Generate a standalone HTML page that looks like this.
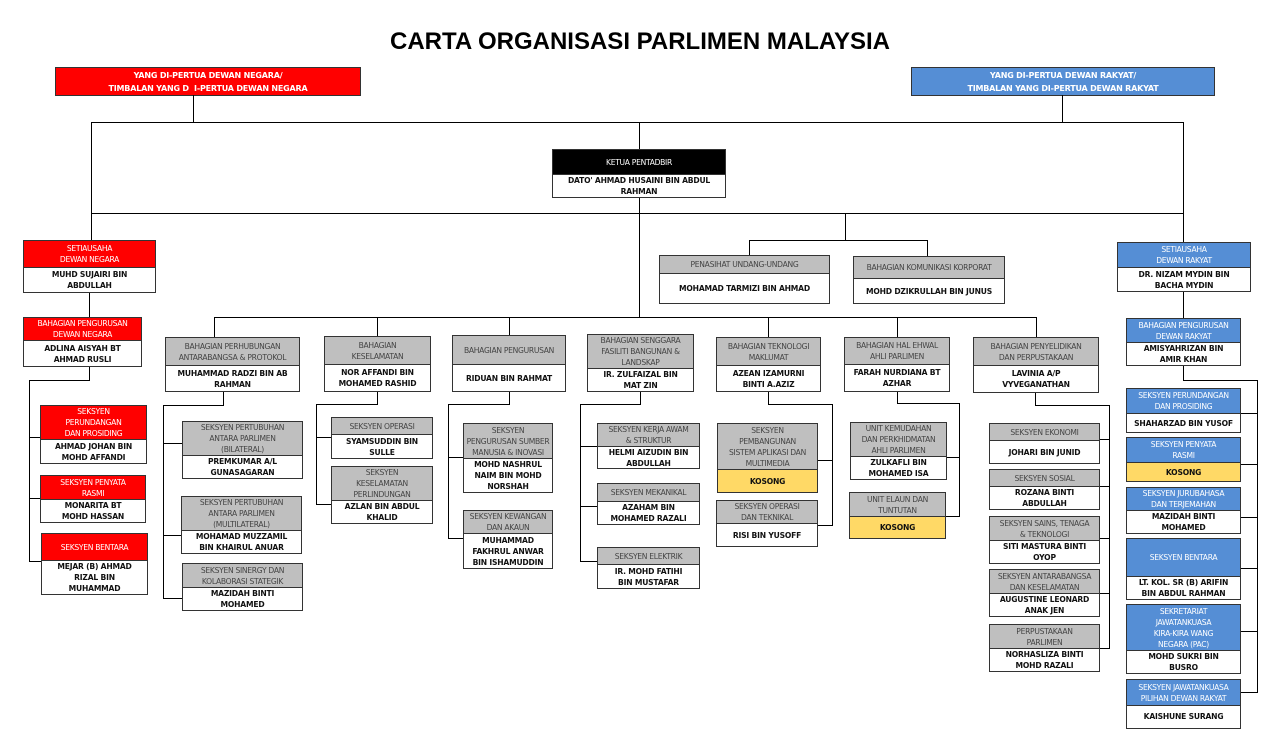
<!DOCTYPE html>
<html><head><meta charset="utf-8"><style>
*{box-sizing:border-box;margin:0;padding:0}
body{width:1280px;height:720px;background:#fff;position:relative;overflow:hidden;font-family:"DejaVu Sans","Liberation Sans",sans-serif}
.t{position:absolute;left:0;width:1280px;top:28px;text-align:center;font:bold 24px "Liberation Sans",sans-serif;color:#000}
.b{position:absolute;border:1px solid #333;display:flex;flex-direction:column;background:#fff}
.h{display:flex;align-items:center;justify-content:center;text-align:center;font-size:7.6px;line-height:11px;letter-spacing:-0.3px;border-bottom:1px solid #333;padding:0 2px}
.n{flex:1;display:flex;align-items:center;justify-content:center;text-align:center;font-size:7.6px;font-weight:bold;line-height:11px;letter-spacing:-0.2px;color:#111;padding:0 2px}
.r{background:#ff0000;color:#fff}.u{background:#558ed5;color:#fff}.g{background:#bfbfbf;color:#444}.k{background:#000;color:#fff}
.y{background:#ffd966}
.top{position:absolute;border:1px solid #333;color:#fff;font-weight:bold;font-size:8px;line-height:13px;text-align:center;padding-top:1px;letter-spacing:-0.2px}
.l{position:absolute;background:#000}
</style></head><body>
<div class="t">CARTA ORGANISASI PARLIMEN MALAYSIA</div>
<div class="top" style="left:55px;top:67px;width:306px;height:29px;background:#ff0000">YANG DI-PERTUA DEWAN NEGARA/<br>TIMBALAN YANG D&nbsp; I-PERTUA DEWAN NEGARA</div>
<div class="top" style="left:911px;top:67px;width:304px;height:29px;background:#558ed5">YANG DI-PERTUA DEWAN RAKYAT/<br>TIMBALAN YANG DI-PERTUA DEWAN RAKYAT</div>

<!-- lines -->
<div class="l" style="left:193px;top:95px;width:1px;height:27px"></div>
<div class="l" style="left:1062px;top:95px;width:1px;height:27px"></div>
<div class="l" style="left:91px;top:122px;width:1093px;height:1px"></div>
<div class="l" style="left:639px;top:122px;width:1px;height:27px"></div>
<div class="l" style="left:91px;top:122px;width:1px;height:118px"></div>
<div class="l" style="left:1183px;top:122px;width:1px;height:120px"></div>
<div class="l" style="left:639px;top:197px;width:1px;height:120px"></div>
<div class="l" style="left:91px;top:213px;width:1093px;height:1px"></div>
<div class="l" style="left:845px;top:213px;width:1px;height:27px"></div>
<div class="l" style="left:749px;top:240px;width:179px;height:1px"></div>
<div class="l" style="left:749px;top:240px;width:1px;height:15px"></div>
<div class="l" style="left:927px;top:240px;width:1px;height:16px"></div>
<div class="l" style="left:89px;top:292px;width:1px;height:25px"></div>
<div class="l" style="left:89px;top:367px;width:1px;height:13px"></div>
<div class="l" style="left:29px;top:380px;width:61px;height:1px"></div>
<div class="l" style="left:29px;top:380px;width:1px;height:181px"></div>
<div class="l" style="left:29px;top:437px;width:11px;height:1px"></div>
<div class="l" style="left:29px;top:498px;width:11px;height:1px"></div>
<div class="l" style="left:29px;top:561px;width:12px;height:1px"></div>
<div class="l" style="left:214px;top:317px;width:823px;height:1px"></div>
<div class="l" style="left:214px;top:317px;width:1px;height:20px"></div>
<div class="l" style="left:377px;top:317px;width:1px;height:20px"></div>
<div class="l" style="left:509px;top:317px;width:1px;height:18px"></div>
<div class="l" style="left:768px;top:317px;width:1px;height:20px"></div>
<div class="l" style="left:897px;top:317px;width:1px;height:20px"></div>
<div class="l" style="left:1036px;top:317px;width:1px;height:20px"></div>
<!-- perhubungan -->
<div class="l" style="left:223px;top:391px;width:1px;height:14px"></div>
<div class="l" style="left:163px;top:405px;width:61px;height:1px"></div>
<div class="l" style="left:163px;top:405px;width:1px;height:193px"></div>
<div class="l" style="left:163px;top:443px;width:19px;height:1px"></div>
<div class="l" style="left:163px;top:535px;width:19px;height:1px"></div>
<div class="l" style="left:163px;top:598px;width:19px;height:1px"></div>
<!-- keselamatan -->
<div class="l" style="left:377px;top:391px;width:1px;height:13px"></div>
<div class="l" style="left:316px;top:404px;width:62px;height:1px"></div>
<div class="l" style="left:316px;top:404px;width:1px;height:100px"></div>
<div class="l" style="left:316px;top:437px;width:15px;height:1px"></div>
<div class="l" style="left:316px;top:504px;width:15px;height:1px"></div>
<!-- pengurusan -->
<div class="l" style="left:509px;top:392px;width:1px;height:12px"></div>
<div class="l" style="left:448px;top:404px;width:62px;height:1px"></div>
<div class="l" style="left:448px;top:404px;width:1px;height:134px"></div>
<div class="l" style="left:448px;top:457px;width:15px;height:1px"></div>
<div class="l" style="left:448px;top:538px;width:15px;height:1px"></div>
<!-- senggara -->
<div class="l" style="left:640px;top:392px;width:1px;height:12px"></div>
<div class="l" style="left:580px;top:404px;width:61px;height:1px"></div>
<div class="l" style="left:580px;top:404px;width:1px;height:157px"></div>
<div class="l" style="left:580px;top:446px;width:17px;height:1px"></div>
<div class="l" style="left:580px;top:506px;width:17px;height:1px"></div>
<div class="l" style="left:580px;top:561px;width:17px;height:1px"></div>
<!-- teknologi -->
<div class="l" style="left:768px;top:391px;width:1px;height:13px"></div>
<div class="l" style="left:768px;top:404px;width:65px;height:1px"></div>
<div class="l" style="left:832px;top:404px;width:1px;height:121px"></div>
<div class="l" style="left:817px;top:460px;width:16px;height:1px"></div>
<div class="l" style="left:817px;top:525px;width:16px;height:1px"></div>
<!-- hal ehwal -->
<div class="l" style="left:897px;top:391px;width:1px;height:12px"></div>
<div class="l" style="left:897px;top:403px;width:63px;height:1px"></div>
<div class="l" style="left:959px;top:403px;width:1px;height:113px"></div>
<div class="l" style="left:946px;top:457px;width:14px;height:1px"></div>
<div class="l" style="left:946px;top:516px;width:14px;height:1px"></div>
<!-- penyelidikan -->
<div class="l" style="left:1035px;top:392px;width:1px;height:13px"></div>
<div class="l" style="left:1035px;top:405px;width:75px;height:1px"></div>
<div class="l" style="left:1109px;top:405px;width:1px;height:243px"></div>
<div class="l" style="left:1099px;top:439px;width:11px;height:1px"></div>
<div class="l" style="left:1099px;top:486px;width:11px;height:1px"></div>
<div class="l" style="left:1099px;top:538px;width:11px;height:1px"></div>
<div class="l" style="left:1099px;top:593px;width:11px;height:1px"></div>
<div class="l" style="left:1099px;top:648px;width:11px;height:1px"></div>
<!-- right -->
<div class="l" style="left:1183px;top:291px;width:1px;height:27px"></div>
<div class="l" style="left:1183px;top:365px;width:1px;height:15px"></div>
<div class="l" style="left:1183px;top:380px;width:75px;height:1px"></div>
<div class="l" style="left:1257px;top:380px;width:1px;height:312px"></div>
<div class="l" style="left:1240px;top:413px;width:18px;height:1px"></div>
<div class="l" style="left:1240px;top:464px;width:18px;height:1px"></div>
<div class="l" style="left:1240px;top:517px;width:18px;height:1px"></div>
<div class="l" style="left:1240px;top:568px;width:18px;height:1px"></div>
<div class="l" style="left:1240px;top:631px;width:18px;height:1px"></div>
<div class="l" style="left:1240px;top:692px;width:18px;height:1px"></div>

<!-- boxes -->
<div class="b" style="left:552px;top:149px;width:174px;height:49px"><div class="h k" style="height:25px">KETUA PENTADBIR</div><div class="n">DATO' AHMAD HUSAINI BIN ABDUL<br>RAHMAN</div></div>

<div class="b" style="left:23px;top:240px;width:133px;height:53px"><div class="h r" style="height:27px">SETIAUSAHA<br>DEWAN NEGARA</div><div class="n">MUHD SUJAIRI BIN<br>ABDULLAH</div></div>
<div class="b" style="left:23px;top:317px;width:119px;height:50px"><div class="h r" style="height:23px">BAHAGIAN PENGURUSAN<br>DEWAN NEGARA</div><div class="n">ADLINA AISYAH BT<br>AHMAD RUSLI</div></div>
<div class="b" style="left:40px;top:405px;width:107px;height:59px"><div class="h r" style="height:34px">SEKSYEN<br>PERUNDANGAN<br>DAN PROSIDING</div><div class="n">AHMAD JOHAN BIN<br>MOHD AFFANDI</div></div>
<div class="b" style="left:40px;top:475px;width:106px;height:48px"><div class="h r" style="height:24px">SEKSYEN PENYATA<br>RASMI</div><div class="n">MONARITA BT<br>MOHD HASSAN</div></div>
<div class="b" style="left:41px;top:533px;width:107px;height:62px"><div class="h r" style="height:27px">SEKSYEN BENTARA</div><div class="n">MEJAR (B) AHMAD<br>RIZAL BIN<br>MUHAMMAD</div></div>

<div class="b" style="left:659px;top:255px;width:171px;height:49px"><div class="h g" style="height:18px">PENASIHAT UNDANG-UNDANG</div><div class="n">MOHAMAD TARMIZI BIN AHMAD</div></div>
<div class="b" style="left:853px;top:256px;width:152px;height:48px"><div class="h g" style="height:22px">BAHAGIAN KOMUNIKASI KORPORAT</div><div class="n">MOHD DZIKRULLAH BIN JUNUS</div></div>

<div class="b" style="left:165px;top:337px;width:135px;height:55px"><div class="h g" style="height:28px">BAHAGIAN PERHUBUNGAN<br>ANTARABANGSA &amp; PROTOKOL</div><div class="n">MUHAMMAD RADZI BIN AB<br>RAHMAN</div></div>
<div class="b" style="left:324px;top:336px;width:107px;height:56px"><div class="h g" style="height:28px">BAHAGIAN<br>KESELAMATAN</div><div class="n">NOR AFFANDI BIN<br>MOHAMED RASHID</div></div>
<div class="b" style="left:452px;top:335px;width:114px;height:57px"><div class="h g" style="height:29px">BAHAGIAN PENGURUSAN</div><div class="n">RIDUAN BIN RAHMAT</div></div>
<div class="b" style="left:587px;top:334px;width:107px;height:58px"><div class="h g" style="height:36px">BAHAGIAN SENGGARA<br>FASILITI BANGUNAN &amp;<br>LANDSKAP</div><div class="n">IR. ZULFAIZAL BIN<br>MAT ZIN</div></div>
<div class="b" style="left:716px;top:337px;width:105px;height:55px"><div class="h g" style="height:28px">BAHAGIAN TEKNOLOGI<br>MAKLUMAT</div><div class="n">AZEAN IZAMURNI<br>BINTI A.AZIZ</div></div>
<div class="b" style="left:844px;top:337px;width:106px;height:55px"><div class="h g" style="height:27px">BAHAGIAN HAL EHWAL<br>AHLI PARLIMEN</div><div class="n">FARAH NURDIANA BT<br>AZHAR</div></div>
<div class="b" style="left:973px;top:337px;width:126px;height:56px"><div class="h g" style="height:28px">BAHAGIAN PENYELIDIKAN<br>DAN PERPUSTAKAAN</div><div class="n">LAVINIA A/P<br>VYVEGANATHAN</div></div>

<div class="b" style="left:182px;top:421px;width:121px;height:58px"><div class="h g" style="height:34px">SEKSYEN PERTUBUHAN<br>ANTARA PARLIMEN<br>(BILATERAL)</div><div class="n">PREMKUMAR A/L<br>GUNASAGARAN</div></div>
<div class="b" style="left:181px;top:496px;width:121px;height:58px"><div class="h g" style="height:34px">SEKSYEN PERTUBUHAN<br>ANTARA PARLIMEN<br>(MULTILATERAL)</div><div class="n">MOHAMAD MUZZAMIL<br>BIN KHAIRUL ANUAR</div></div>
<div class="b" style="left:182px;top:563px;width:121px;height:48px"><div class="h g" style="height:24px">SEKSYEN SINERGY DAN<br>KOLABORASI STATEGIK</div><div class="n">MAZIDAH BINTI<br>MOHAMED</div></div>

<div class="b" style="left:331px;top:417px;width:102px;height:42px"><div class="h g" style="height:17px">SEKSYEN OPERASI</div><div class="n">SYAMSUDDIN BIN<br>SULLE</div></div>
<div class="b" style="left:331px;top:466px;width:102px;height:58px"><div class="h g" style="height:37px">SEKSYEN<br>KESELAMATAN<br>PERLINDUNGAN</div><div class="n">AZLAN BIN ABDUL<br>KHALID</div></div>

<div class="b" style="left:463px;top:423px;width:90px;height:70px"><div class="h g" style="height:35px">SEKSYEN<br>PENGURUSAN SUMBER<br>MANUSIA &amp; INOVASI</div><div class="n">MOHD NASHRUL<br>NAIM BIN MOHD<br>NORSHAH</div></div>
<div class="b" style="left:463px;top:510px;width:90px;height:59px"><div class="h g" style="height:23px">SEKSYEN KEWANGAN<br>DAN AKAUN</div><div class="n">MUHAMMAD<br>FAKHRUL ANWAR<br>BIN ISHAMUDDIN</div></div>

<div class="b" style="left:597px;top:423px;width:103px;height:46px"><div class="h g" style="height:24px">SEKSYEN KERJA AWAM<br>&amp; STRUKTUR</div><div class="n">HELMI AIZUDIN BIN<br>ABDULLAH</div></div>
<div class="b" style="left:597px;top:483px;width:103px;height:42px"><div class="h g" style="height:19px">SEKSYEN MEKANIKAL</div><div class="n">AZAHAM BIN<br>MOHAMED RAZALI</div></div>
<div class="b" style="left:597px;top:547px;width:103px;height:42px"><div class="h g" style="height:17px">SEKSYEN ELEKTRIK</div><div class="n">IR. MOHD FATIHI<br>BIN MUSTAFAR</div></div>

<div class="b" style="left:717px;top:423px;width:101px;height:70px"><div class="h g" style="height:46px">SEKSYEN<br>PEMBANGUNAN<br>SISTEM APLIKASI DAN<br>MULTIMEDIA</div><div class="n y">KOSONG</div></div>
<div class="b" style="left:716px;top:500px;width:102px;height:47px"><div class="h g" style="height:23px">SEKSYEN OPERASI<br>DAN TEKNIKAL</div><div class="n">RISI BIN YUSOFF</div></div>

<div class="b" style="left:850px;top:422px;width:97px;height:58px"><div class="h g" style="height:35px">UNIT KEMUDAHAN<br>DAN PERKHIDMATAN<br>AHLI PARLIMEN</div><div class="n">ZULKAFLI BIN<br>MOHAMED ISA</div></div>
<div class="b" style="left:849px;top:492px;width:97px;height:47px"><div class="h g" style="height:24px">UNIT ELAUN DAN<br>TUNTUTAN</div><div class="n y">KOSONG</div></div>

<div class="b" style="left:989px;top:423px;width:111px;height:41px"><div class="h g" style="height:17px">SEKSYEN EKONOMI</div><div class="n">JOHARI BIN JUNID</div></div>
<div class="b" style="left:989px;top:469px;width:111px;height:41px"><div class="h g" style="height:17px">SEKSYEN SOSIAL</div><div class="n">ROZANA BINTI<br>ABDULLAH</div></div>
<div class="b" style="left:989px;top:516px;width:111px;height:48px"><div class="h g" style="height:24px">SEKSYEN SAINS, TENAGA<br>&amp; TEKNOLOGI</div><div class="n">SITI MASTURA BINTI<br>OYOP</div></div>
<div class="b" style="left:989px;top:569px;width:111px;height:48px"><div class="h g" style="height:24px">SEKSYEN ANTARABANGSA<br>DAN KESELAMATAN</div><div class="n">AUGUSTINE LEONARD<br>ANAK JEN</div></div>
<div class="b" style="left:989px;top:624px;width:111px;height:48px"><div class="h g" style="height:24px">PERPUSTAKAAN<br>PARLIMEN</div><div class="n">NORHASLIZA BINTI<br>MOHD RAZALI</div></div>

<div class="b" style="left:1117px;top:242px;width:134px;height:50px"><div class="h u" style="height:25px">SETIAUSAHA<br>DEWAN RAKYAT</div><div class="n">DR. NIZAM MYDIN BIN<br>BACHA MYDIN</div></div>
<div class="b" style="left:1126px;top:318px;width:115px;height:48px"><div class="h u" style="height:24px">BAHAGIAN PENGURUSAN<br>DEWAN RAKYAT</div><div class="n">AMISYAHRIZAN BIN<br>AMIR KHAN</div></div>
<div class="b" style="left:1126px;top:388px;width:115px;height:45px"><div class="h u" style="height:25px">SEKSYEN PERUNDANGAN<br>DAN PROSIDING</div><div class="n">SHAHARZAD BIN YUSOF</div></div>
<div class="b" style="left:1126px;top:437px;width:115px;height:45px"><div class="h u" style="height:25px">SEKSYEN PENYATA<br>RASMI</div><div class="n y">KOSONG</div></div>
<div class="b" style="left:1126px;top:487px;width:115px;height:47px"><div class="h u" style="height:23px">SEKSYEN JURUBAHASA<br>DAN TERJEMAHAN</div><div class="n">MAZIDAH BINTI<br>MOHAMED</div></div>
<div class="b" style="left:1126px;top:538px;width:115px;height:62px"><div class="h u" style="height:39px">SEKSYEN BENTARA</div><div class="n">LT. KOL. SR (B) ARIFIN<br>BIN ABDUL RAHMAN</div></div>
<div class="b" style="left:1126px;top:604px;width:115px;height:70px"><div class="h u" style="height:46px">SEKRETARIAT<br>JAWATANKUASA<br>KIRA-KIRA WANG<br>NEGARA (PAC)</div><div class="n">MOHD SUKRI BIN<br>BUSRO</div></div>
<div class="b" style="left:1126px;top:679px;width:115px;height:50px"><div class="h u" style="height:26px">SEKSYEN JAWATANKUASA<br>PILIHAN DEWAN RAKYAT</div><div class="n" style="align-items:flex-start;padding-top:5px">KAISHUNE SURANG</div></div>
</body></html>
